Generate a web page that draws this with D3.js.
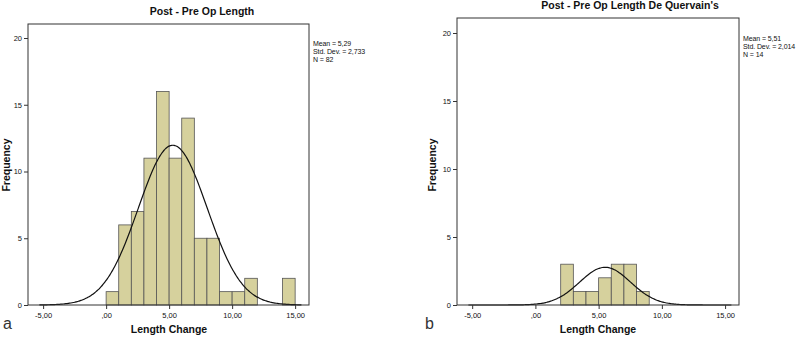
<!DOCTYPE html>
<html>
<head>
<meta charset="utf-8">
<script src="https://cdn.jsdelivr.net/npm/d3@7"></script>
<style>
	body { margin: 0; background: #fff; }
	svg { display: block; font-family: "Liberation Sans", Arial, sans-serif; }
</style>
</head>
<body>
<svg id="chart" width="800" height="338"></svg>
<script>
// bins are 1 unit wide, starting at 0
var binStarts = [0, 1, 2, 3, 4, 5, 6, 7, 8, 9, 10, 11, 12, 13, 14];
var countsAll = [1, 6, 7, 11, 16, 11, 14, 5, 5, 1, 1, 2, 0, 0, 2];
var countsDeQuervain = [0, 0, 3, 1, 1, 2, 3, 3, 1, 0, 0, 0, 0, 0, 0];

var xTicks = [-5, 0, 5, 10, 15];
var xTickLabels = ["-5,00", ",00", "5,00", "10,00", "15,00"];
var yTicks = [0, 5, 10, 15, 20];

var statsAll = { mean: 5.29, sd: 2.733, n: 82 };
var statsDeQuervain = { mean: 5.51, sd: 2.014, n: 14 };

var statLabelsAll = ["Mean = 5,29", "Std. Dev. = 2,733", "N = 82"];
var statLabelsDeQuervain = ["Mean = 5,51", "Std. Dev. = 2,014", "N = 14"];

var svg = d3.select("#chart");

function drawPanel(opts) {
	var left = opts.left, right = opts.right, top = opts.top, bottom = opts.bottom;

	var x = d3.scaleLinear().domain([-6.2, 16.1]).range([left, right]);
	var y = d3.scaleLinear().domain([0, 20]).range([bottom, opts.y20]);

	var g = svg.append("g");

	// title
	g.append("text")
		.attr("x", opts.titleX)
		.attr("y", opts.titleY)
		.attr("text-anchor", "middle")
		.attr("font-size", 10.5)
		.attr("font-weight", "bold")
		.attr("fill", "#111")
		.text(opts.title);

	// bars
	g.selectAll("rect.bar")
		.data(opts.counts.map(function(c, i) { return { x0: binStarts[i], c: c }; })
			.filter(function(d) { return d.c > 0; }))
		.enter().append("rect")
		.attr("class", "bar")
		.attr("x", function(d) { return x(d.x0); })
		.attr("y", function(d) { return y(d.c); })
		.attr("width", function(d) { return x(d.x0 + 1) - x(d.x0); })
		.attr("height", function(d) { return y(0) - y(d.c); })
		.attr("fill", "#d6d19d")
		.attr("stroke", "#555")
		.attr("stroke-width", 0.8);

	// normal curve from the panel stats
	var s = opts.stats;
	var peak = s.n / (s.sd * Math.sqrt(2 * Math.PI));
	var pts = d3.range(-5.3, 15.6, 0.1).map(function(v) {
		var z = (v - s.mean) / s.sd;
		return [v, peak * Math.exp(-0.5 * z * z)];
	});
	g.append("path")
		.datum(pts)
		.attr("fill", "none")
		.attr("stroke", "#111")
		.attr("stroke-width", 1.2)
		.attr("d", d3.line()
			.x(function(d) { return x(d[0]); })
			.y(function(d) { return y(d[1]); })
			.curve(d3.curveBasis));

	// frame
	g.append("rect")
		.attr("x", left)
		.attr("y", top)
		.attr("width", right - left)
		.attr("height", bottom - top)
		.attr("fill", "none")
		.attr("stroke", "#333")
		.attr("stroke-width", 1);

	// axes
	var xAxis = g.append("g")
		.attr("transform", "translate(0," + bottom + ")")
		.call(d3.axisBottom(x).tickValues(xTicks).tickSize(4)
			.tickFormat(function(d, i) { return xTickLabels[i]; }));
	var yAxis = g.append("g")
		.attr("transform", "translate(" + left + ",0)")
		.call(d3.axisLeft(y).tickValues(yTicks).tickSize(4).tickPadding(2));

	[xAxis, yAxis].forEach(function(a) {
		a.select(".domain").remove();
		a.selectAll("line").attr("stroke", "#333");
		a.selectAll("text").attr("font-size", 7.5).attr("fill", "#111")
			.attr("font-family", "Liberation Sans, Arial, sans-serif");
	});
	xAxis.selectAll("text").attr("dy", "0.85em");

	// axis labels
	g.append("text")
		.attr("x", opts.xLabelX)
		.attr("y", 333)
		.attr("text-anchor", "middle")
		.attr("font-size", 10.5)
		.attr("font-weight", "bold")
		.attr("fill", "#111")
		.text("Length Change");

	g.append("text")
		.attr("transform", "translate(" + opts.yLabelX + ",165) rotate(-90)")
		.attr("text-anchor", "middle")
		.attr("font-size", 10.5)
		.attr("font-weight", "bold")
		.attr("fill", "#111")
		.text("Frequency");

	// stats box text
	g.selectAll("text.stat")
		.data(opts.statLabels)
		.enter().append("text")
		.attr("class", "stat")
		.attr("x", right + 4)
		.attr("y", function(d, i) { return opts.statY + i * 8; })
		.attr("font-size", 7)
		.attr("letter-spacing", -0.1)
		.attr("fill", "#111")
		.text(function(d) { return d; });

	// panel letter
	g.append("text")
		.attr("x", opts.letterX)
		.attr("y", 329)
		.attr("font-size", 16)
		.attr("fill", "#333")
		.text(opts.letter);
}

drawPanel({
	left: 28, right: 309, top: 24, bottom: 305, y20: 38,
	title: "Post - Pre Op Length", titleX: 202, titleY: 15,
	counts: countsAll, stats: statsAll, statLabels: statLabelsAll, statY: 46,
	xLabelX: 169, yLabelX: 10, letter: "a", letterX: 3
});

drawPanel({
	left: 457, right: 739, top: 18, bottom: 305, y20: 33,
	title: "Post - Pre Op Length De Quervain's", titleX: 630, titleY: 9,
	counts: countsDeQuervain, stats: statsDeQuervain, statLabels: statLabelsDeQuervain, statY: 41,
	xLabelX: 598, yLabelX: 436, letter: "b", letterX: 425
});
</script>
</body>
</html>
